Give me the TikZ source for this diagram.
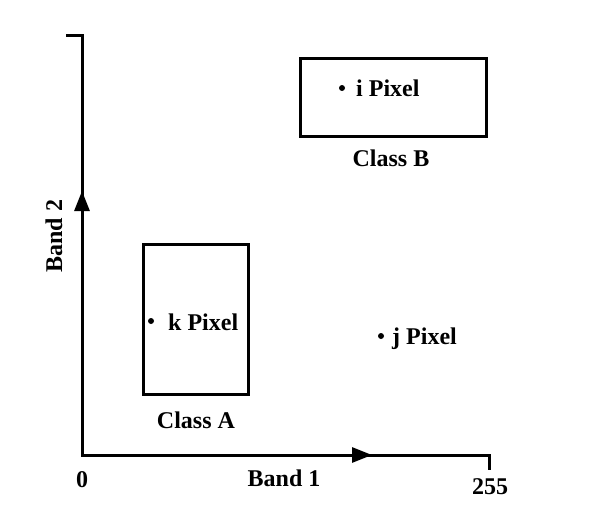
\documentclass[tikz,border=0pt]{standalone}
\usepackage{fontspec}
\setmainfont{Liberation Serif}
\usetikzlibrary{arrows.meta}
\begin{document}
\begin{tikzpicture}[x=1pt,y=-1pt,
  lbl/.style={font=\fontsize{24}{28}\selectfont\bfseries, inner sep=0pt},
  axis/.style={line width=3pt, line join=miter},
  box/.style={draw, line width=3pt, inner sep=0pt},
  pdot/.style={circle, fill=black, inner sep=0pt, minimum size=6pt}]
\useasboundingbox (0,0) rectangle (614,522);
% axes
\coordinate (Ytick) at (66,35);
\coordinate (Ytop) at (82,35);
\coordinate (O) at (82,455);
\coordinate (Xend) at (489,455);
\coordinate (Xtick) at (489,470);
\coordinate (Yarr) at (82,191);
\coordinate (Xarr) at (372,455);
\draw[axis] (Ytick) -- (Ytop) -- (O) -- (Xend) -- (Xtick);
\draw[line width=3pt, -{Triangle[length=20pt,width=15pt]}] (O) -- (Yarr);
\draw[line width=3pt, -{Triangle[length=20pt,width=15pt]}] (O) -- (Xarr);
% boxes
\node[box, minimum width=186pt, minimum height=78pt] (B) at (393,97) {};
\node[box, minimum width=105pt, minimum height=150pt] (A) at (195.5,319) {};
% pixels
\node[pdot] (di) at (342,88) {};
\node[lbl, anchor=base west] (ti) at (356,96) {i Pixel};
\node[pdot] (dk) at (151,321) {};
\node[lbl, anchor=base west] (tk) at (168,330) {k Pixel};
\node[pdot] (dj) at (381,336) {};
\node[lbl, anchor=base west] (tj) at (392,344) {j Pixel};
% labels
\node[lbl, anchor=base] (cB) at (391,166) {Class B};
\node[lbl, anchor=base] (cA) at (196,428) {Class A};
\node[lbl, anchor=base] (b1) at (284,486) {Band 1};
\node[lbl, anchor=base] (z) at (82,487) {0};
\node[lbl, anchor=base] (f) at (490,494) {255};
\node[lbl, rotate=90, anchor=base] (b2) at (62,236) {Band 2};
\end{tikzpicture}
\end{document}
